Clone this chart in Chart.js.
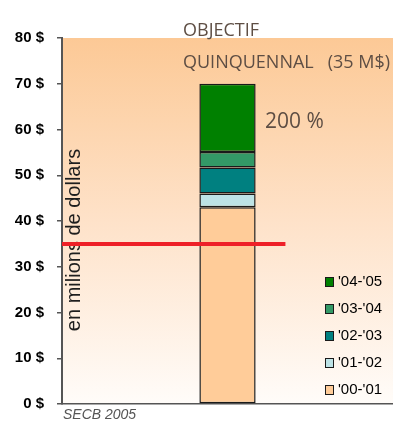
<!DOCTYPE html>
<html>
<head>
<meta charset="utf-8">
<script src="https://cdn.jsdelivr.net/npm/chart.js@4.4.0/dist/chart.umd.min.js"></script>
<style>
  html, body { margin: 0; padding: 0; background: #ffffff; }
  #wrap { position: relative; width: 393px; height: 423px; overflow: hidden; }
  canvas { display: block; }
</style>
</head>
<body>
<div id="wrap"><canvas id="c" width="393" height="423"></canvas></div>
<script>
// ---- data ----
const categories = ['Objectif'];
const seasons = ["'00-'01", "'01-'02", "'02-'03", "'03-'04", "'04-'05"];
const seasonValues = [43, 3, 5.7, 3.4, 14.9];
const targetValue = 35;
const targetSpan = [0, 0.675];         // fraction of the plot width covered by the target line
const yTickValues = [0, 10, 20, 30, 40, 50, 60, 70, 80];
const titleLines = ['OBJECTIF', 'QUINQUENNAL   (35 M$)'];
const percentLabel = '200 %';
const yAxisTitle = 'en milions de dollars';
const sourceLabel = 'SECB 2005';

// ---- styles ----
const seasonColors = ['#FFCC99', '#BDE3E6', '#008080', '#339966', '#008000'];
const annoColor = '#5e4e44';

const datasets = seasons.map((s, i) => ({
  label: s,
  data: [seasonValues[i]],
  xAxisID: 'x',
  yAxisID: 'y',
  backgroundColor: seasonColors[i],
  borderColor: '#1a1a1a',
  borderWidth: 1.5,
  borderSkipped: false,
  grouped: false,
  categoryPercentage: 1,
  barPercentage: 0.170,
  stack: 'seasons',
  order: 1
}));
datasets.push({
  type: 'line',
  label: 'target',
  xAxisID: 'x2',
  yAxisID: 'y',
  stack: 'target',
  data: targetSpan.map(x => ({ x: x, y: targetValue })),
  borderColor: '#EE2028',
  borderWidth: 4,
  pointRadius: 0,
  fill: false,
  order: 0
});

const bgPlugin = {
  id: 'bg',
  beforeDraw(chart) {
    const { ctx, chartArea: a } = chart;
    const g = ctx.createLinearGradient(0, a.top, 0, a.bottom);
    g.addColorStop(0, '#FCC996');
    g.addColorStop(0.5, '#FEE2C9');
    g.addColorStop(1, '#FFFCF9');
    ctx.save();
    ctx.fillStyle = g;
    ctx.fillRect(a.left, a.top, a.right - a.left, a.bottom - a.top);
    ctx.restore();
  },
  beforeDatasetsDraw(chart) {
    const { ctx, chartArea: a } = chart;
    ctx.save();
    ctx.fillStyle = '#1e1e1e';
    ctx.font = '20px "Liberation Sans", Arial, sans-serif';
    ctx.textAlign = 'center';
    ctx.textBaseline = 'middle';
    ctx.translate(a.left + 12, 240);
    ctx.rotate(-Math.PI / 2);
    ctx.fillText(yAxisTitle, 0, 0);
    ctx.restore();
  },
  afterDraw(chart) {
    const { ctx, scales } = chart;
    ctx.save();
    ctx.fillStyle = annoColor;
    ctx.textAlign = 'left';
    ctx.textBaseline = 'alphabetic';
    ctx.font = '18px "Open Sans", sans-serif';
    ctx.fillText(titleLines[0], 183, 36);
    ctx.fillText(titleLines[1], 183, 68);
    ctx.font = '21px "Open Sans", sans-serif';
    const total = seasonValues.reduce((p, v) => p + v, 0);
    ctx.fillText(percentLabel, 265, scales.y.getPixelForValue(total) + 44);
    // source
    ctx.fillStyle = '#555';
    ctx.font = 'italic 14px "Liberation Sans", Arial, sans-serif';
    ctx.fillText(sourceLabel, 63, 419);
    // legend (reverse order)
    ctx.font = '15px "Liberation Sans", Arial, sans-serif';
    ctx.textBaseline = 'middle';
    for (let k = 0; k < seasons.length; k++) {
      const i = seasons.length - 1 - k;
      const cy = 282 + k * 27;
      ctx.fillStyle = seasonColors[i];
      ctx.fillRect(325, cy - 5, 9, 10);
      ctx.strokeStyle = '#1a1a1a';
      ctx.lineWidth = 1;
      ctx.strokeRect(325.5, cy - 4.5, 8, 9);
      ctx.fillStyle = '#000';
      ctx.fillText(seasons[i], 338, cy);
    }
    ctx.restore();
  }
};

new Chart(document.getElementById('c'), {
  type: 'bar',
  data: { labels: categories, datasets: datasets },
  options: {
    responsive: false,
    animation: false,
    maintainAspectRatio: false,
    layout: { padding: { top: 38, bottom: 19, left: 0, right: -4 } },
    plugins: { legend: { display: false }, tooltip: { enabled: false } },
    scales: {
      x: {
        type: 'category',
        stacked: true,
        offset: true,
        grid: { display: false },
        ticks: { display: false },
        border: { color: '#555', width: 1.5 },
        afterFit(scale) { scale.height = 0; scale.paddingLeft = 0; scale.paddingRight = 0; }
      },
      x2: {
        type: 'linear',
        min: 0, max: 1,
        offset: false,
        display: false
      },
      y: {
        stacked: true,
        min: 0, max: 80,
        afterBuildTicks(scale) { scale.ticks = yTickValues.map(v => ({ value: v })); },
        afterFit(scale) { scale.width = 62; scale.paddingTop = 0; scale.paddingBottom = 0; },
        grid: { drawOnChartArea: false, drawTicks: true, tickLength: 5, color: '#555', lineWidth: 1.5 },
        border: { color: '#555', width: 2 },
        ticks: {
          padding: 13,
          color: '#000',
          font: { family: '"Liberation Sans", Arial, sans-serif', size: 15, weight: 'bold' },
          callback: v => v + ' $'
        }
      }
    }
  },
  plugins: [bgPlugin]
});
</script>
</body>
</html>
